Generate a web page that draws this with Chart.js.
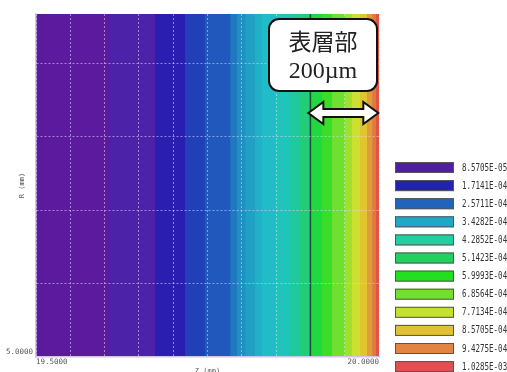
<!DOCTYPE html>
<html>
<head>
<meta charset="utf-8">
<script src="https://cdn.jsdelivr.net/npm/chart.js@4/dist/chart.umd.min.js"></script>
<style>
  html, body { margin: 0; padding: 0; background: #fff; }
  #wrap { width: 507px; height: 372px; }
</style>
</head>
<body>
<div id="wrap"><canvas id="c" width="507" height="372"></canvas></div>
<script>
// Axis ranges (Z along the surface normal, R radial)
const zRange = [19.5, 20.0];
const rRange = [5.0, 9.6667];

// Contour bands: each band starts at bandStarts[i] and runs to the next one
const bandStarts = [
  19.5, 19.513, 19.608, 19.6735, 19.717, 19.746, 19.783, 19.793,
  19.805, 19.819, 19.829, 19.848, 19.870, 19.885, 19.901, 19.917,
  19.9315, 19.950, 19.9606, 19.9723, 19.9825, 19.990, 19.9956
];
const bandColors = [
  '#5a1a9c', '#5c1a9e', '#4c22a8', '#2a1eb0', '#2040b8', '#2058bc', '#2078c0', '#2090c2',
  '#20a0c4', '#20b0c8', '#20bcc8', '#20c4b8', '#20c8a0', '#22cc78', '#20d840', '#3ade28',
  '#70e030', '#a0e030', '#cce030', '#e0c430', '#e09c38', '#e07840', '#e05444'
];

// Surface layer boundary
const layerEdgeZ = 19.9;
const arrowZ = [19.897, 19.999];
const arrowR = 8.32;
const calloutLines = ['表層部', '200µm'];

// Contour level legend
const legendLabels = [
  '8.5705E-05', '1.7141E-04', '2.5711E-04', '3.4282E-04', '4.2852E-04', '5.1423E-04',
  '5.9993E-04', '6.8564E-04', '7.7134E-04', '8.5705E-04', '9.4275E-04', '1.0285E-03'
];
const legendColors = [
  '#4f1f9f', '#2222b0', '#2264bc', '#20a8c8', '#20d0a0', '#22d060',
  '#22e020', '#72e030', '#c4e030', '#e2c034', '#e28444', '#e05050'
];

const bandDatasets = bandStarts.map((z0, i) => ({
  type: 'line',
  data: [{ x: z0, y: rRange[1] }, { x: zRange[1], y: rRange[1] }],
  borderWidth: 0,
  pointRadius: 0,
  fill: 'start',
  backgroundColor: bandColors[i],
  order: bandStarts.length - i + 1
}));

const edgeDataset = {
  type: 'line',
  data: [{ x: layerEdgeZ, y: rRange[0] }, { x: layerEdgeZ, y: rRange[1] }],
  borderColor: 'rgba(30,55,40,0.85)',
  borderWidth: 1.5,
  pointRadius: 0,
  fill: false,
  order: 0
};

const gridColor = 'rgba(230,220,255,0.55)';
const clear = 'rgba(0,0,0,0)';

const overlayPlugin = {
  id: 'overlay',
  afterDraw(chart) {
    const ctx = chart.ctx;
    const xs = chart.scales.x, ys = chart.scales.y;
    const area = chart.chartArea;

    // callout box
    const bx = area.right - 110, by = area.top + 5, bw = 108, bh = 72, rad = 10;
    ctx.save();
    ctx.beginPath();
    ctx.roundRect(bx, by, bw, bh, rad);
    ctx.fillStyle = '#fff';
    ctx.fill();
    ctx.lineWidth = 2;
    ctx.strokeStyle = '#111';
    ctx.stroke();
    ctx.fillStyle = '#222';
    ctx.textAlign = 'center';
    ctx.textBaseline = 'middle';
    ctx.font = '23px "Noto Sans CJK JP"';
    ctx.fillText(calloutLines[0], bx + bw / 2, by + 22);
    ctx.font = '24px "Liberation Serif"';
    ctx.fillText(calloutLines[1], bx + bw / 2, by + 53);
    ctx.restore();

    // double-headed arrow across the surface layer
    const x1 = xs.getPixelForValue(arrowZ[0]);
    const x2 = xs.getPixelForValue(arrowZ[1]);
    const yc = ys.getPixelForValue(arrowR);
    const hl = 15, hh = 11, sh = 4;
    ctx.save();
    ctx.beginPath();
    ctx.moveTo(x1, yc);
    ctx.lineTo(x1 + hl, yc - hh);
    ctx.lineTo(x1 + hl, yc - sh);
    ctx.lineTo(x2 - hl, yc - sh);
    ctx.lineTo(x2 - hl, yc - hh);
    ctx.lineTo(x2, yc);
    ctx.lineTo(x2 - hl, yc + hh);
    ctx.lineTo(x2 - hl, yc + sh);
    ctx.lineTo(x1 + hl, yc + sh);
    ctx.lineTo(x1 + hl, yc + hh);
    ctx.closePath();
    ctx.fillStyle = '#fff';
    ctx.fill();
    ctx.lineWidth = 2;
    ctx.lineJoin = 'miter';
    ctx.strokeStyle = '#111';
    ctx.stroke();
    ctx.restore();

    // level legend
    const lx = area.right + 16, ly = 162, step = 18.1, lw = 59, lh = 11;
    ctx.save();
    legendLabels.forEach((lab, i) => {
      const y = ly + i * step;
      ctx.fillStyle = legendColors[i];
      ctx.fillRect(lx, y, lw, lh);
      ctx.lineWidth = 1;
      ctx.strokeStyle = '#555';
      ctx.strokeRect(lx + 0.5, y + 0.5, lw - 1, lh - 1);
      ctx.save();
      ctx.translate(lx + 67, y + lh / 2 + 0.5);
      ctx.scale(0.75, 1);
      ctx.font = '10px "DejaVu Sans Mono"';
      ctx.fillStyle = '#333';
      ctx.textAlign = 'left';
      ctx.textBaseline = 'middle';
      ctx.fillText(lab, 0, 0);
      ctx.restore();
    });
    ctx.restore();
  }
};

new Chart(document.getElementById('c'), {
  type: 'line',
  data: { datasets: [...bandDatasets, edgeDataset] },
  options: {
    responsive: false,
    animation: false,
    devicePixelRatio: 1,
    layout: { padding: { top: 14, right: 128, left: 0, bottom: 0 } },
    plugins: { legend: { display: false }, tooltip: { enabled: false } },
    scales: {
      x: {
        type: 'linear',
        min: zRange[0],
        max: zRange[1],
        afterFit(scale) { scale.height = 15; },
        grid: {
          z: 1,
          // the layer boundary line sits on the 19.9 grid position
          color: (c) => (c.tick && Math.abs(c.tick.value - layerEdgeZ) < 1e-6) ? clear : gridColor,
          lineWidth: 1,
          drawTicks: false
        },
        border: { display: true, z: 1, color: '#cfc6ec', width: 1.5, dash: [2, 2] },
        ticks: {
          stepSize: 0.05,
          autoSkip: false,
          maxRotation: 0,
          align: 'inner',
          padding: 1,
          color: '#555',
          font: { family: 'DejaVu Sans Mono', size: 7.5 },
          callback(v, i, ticks) {
            return (i === 0 || i === ticks.length - 1) ? Number(v).toFixed(4) : '';
          }
        },
        title: {
          display: true,
          text: 'Z (mm)',
          color: '#555',
          font: { family: 'DejaVu Sans Mono', size: 7 },
          padding: { top: 0, bottom: -3 }
        }
      },
      y: {
        type: 'linear',
        min: rRange[0],
        max: rRange[1],
        afterFit(scale) { scale.width = 36; },
        grid: {
          z: 1,
          color: (c) => (c.tick && c.tick.value > rRange[1] - 0.01) ? clear : gridColor,
          lineWidth: 1,
          drawTicks: false
        },
        border: { display: true, z: 1, color: '#cfc6ec', width: 1.5, dash: [2, 2] },
        ticks: {
          stepSize: 1,
          autoSkip: false,
          padding: 3,
          labelOffset: -5,
          color: '#555',
          font: { family: 'DejaVu Sans Mono', size: 7.5 },
          callback(v, i) { return i === 0 ? Number(v).toFixed(4) : ''; }
        },
        title: {
          display: true,
          text: 'R (mm)',
          color: '#555',
          font: { family: 'DejaVu Sans Mono', size: 7 },
          padding: { top: 18, bottom: 0 }
        }
      }
    }
  },
  plugins: [overlayPlugin]
});
</script>
</body>
</html>
